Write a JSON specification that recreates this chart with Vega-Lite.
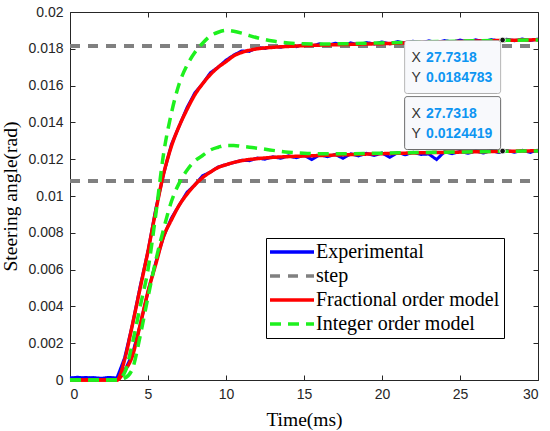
{
  "$schema": "https://vega.github.io/schema/vega-lite/v6.json",
  "description": "Steering angle step response: experiment vs fractional and integer order models",
  "width": 468,
  "height": 368,
  "autosize": {"type": "none"},
  "padding": {"left": 70, "top": 12, "right": 12, "bottom": 51},
  "background": "white",
  "datasets": {
    "curves": [
      {"series": "Experimental", "run": "a", "t": 0, "v": 0.00012},
      {"series": "Experimental", "run": "a", "t": 0.5, "v": 0.00008},
      {"series": "Experimental", "run": "a", "t": 1, "v": 0.00014},
      {"series": "Experimental", "run": "a", "t": 1.5, "v": 0.0001},
      {"series": "Experimental", "run": "a", "t": 2, "v": 0.00006},
      {"series": "Experimental", "run": "a", "t": 2.5, "v": 0.00011},
      {"series": "Experimental", "run": "a", "t": 3, "v": 0.00009},
      {"series": "Experimental", "run": "a", "t": 3.5, "v": 0.0012},
      {"series": "Experimental", "run": "a", "t": 4, "v": 0.003},
      {"series": "Experimental", "run": "a", "t": 4.5, "v": 0.0051},
      {"series": "Experimental", "run": "a", "t": 5, "v": 0.007},
      {"series": "Experimental", "run": "a", "t": 5.5, "v": 0.0093},
      {"series": "Experimental", "run": "a", "t": 6, "v": 0.0112},
      {"series": "Experimental", "run": "a", "t": 6.5, "v": 0.0128},
      {"series": "Experimental", "run": "a", "t": 7, "v": 0.0138},
      {"series": "Experimental", "run": "a", "t": 7.5, "v": 0.0148},
      {"series": "Experimental", "run": "a", "t": 8, "v": 0.0156},
      {"series": "Experimental", "run": "a", "t": 8.5, "v": 0.0161},
      {"series": "Experimental", "run": "a", "t": 9, "v": 0.0167},
      {"series": "Experimental", "run": "a", "t": 9.5, "v": 0.017},
      {"series": "Experimental", "run": "a", "t": 10, "v": 0.01738},
      {"series": "Experimental", "run": "a", "t": 10.5, "v": 0.01766},
      {"series": "Experimental", "run": "a", "t": 11, "v": 0.01788},
      {"series": "Experimental", "run": "a", "t": 11.5, "v": 0.01786},
      {"series": "Experimental", "run": "a", "t": 12, "v": 0.01808},
      {"series": "Experimental", "run": "a", "t": 12.5, "v": 0.01802},
      {"series": "Experimental", "run": "a", "t": 13, "v": 0.01816},
      {"series": "Experimental", "run": "a", "t": 13.5, "v": 0.01808},
      {"series": "Experimental", "run": "a", "t": 14, "v": 0.0182},
      {"series": "Experimental", "run": "a", "t": 14.5, "v": 0.01812},
      {"series": "Experimental", "run": "a", "t": 15, "v": 0.01824},
      {"series": "Experimental", "run": "a", "t": 15.5, "v": 0.01815},
      {"series": "Experimental", "run": "a", "t": 16, "v": 0.01827},
      {"series": "Experimental", "run": "a", "t": 16.5, "v": 0.01818},
      {"series": "Experimental", "run": "a", "t": 17, "v": 0.0183},
      {"series": "Experimental", "run": "a", "t": 17.5, "v": 0.0182},
      {"series": "Experimental", "run": "a", "t": 18, "v": 0.01832},
      {"series": "Experimental", "run": "a", "t": 18.5, "v": 0.01822},
      {"series": "Experimental", "run": "a", "t": 19, "v": 0.01834},
      {"series": "Experimental", "run": "a", "t": 19.5, "v": 0.01826},
      {"series": "Experimental", "run": "a", "t": 20, "v": 0.01837},
      {"series": "Experimental", "run": "a", "t": 20.5, "v": 0.01827},
      {"series": "Experimental", "run": "a", "t": 21, "v": 0.01839},
      {"series": "Experimental", "run": "a", "t": 21.5, "v": 0.0183},
      {"series": "Experimental", "run": "a", "t": 22, "v": 0.01841},
      {"series": "Experimental", "run": "a", "t": 22.5, "v": 0.01832},
      {"series": "Experimental", "run": "a", "t": 23, "v": 0.01843},
      {"series": "Experimental", "run": "a", "t": 23.5, "v": 0.01834},
      {"series": "Experimental", "run": "a", "t": 24, "v": 0.01845},
      {"series": "Experimental", "run": "a", "t": 24.5, "v": 0.01836},
      {"series": "Experimental", "run": "a", "t": 25, "v": 0.01847},
      {"series": "Experimental", "run": "a", "t": 25.5, "v": 0.01838},
      {"series": "Experimental", "run": "a", "t": 26, "v": 0.01849},
      {"series": "Experimental", "run": "a", "t": 26.5, "v": 0.0184},
      {"series": "Experimental", "run": "a", "t": 27, "v": 0.0185},
      {"series": "Experimental", "run": "a", "t": 27.5, "v": 0.01843},
      {"series": "Experimental", "run": "a", "t": 28, "v": 0.01852},
      {"series": "Experimental", "run": "a", "t": 28.5, "v": 0.01844},
      {"series": "Experimental", "run": "a", "t": 29, "v": 0.01853},
      {"series": "Experimental", "run": "a", "t": 29.5, "v": 0.01845},
      {"series": "Experimental", "run": "a", "t": 30, "v": 0.01853},
      {"series": "Experimental", "run": "b", "t": 0, "v": 0.0001},
      {"series": "Experimental", "run": "b", "t": 0.5, "v": 0.00015},
      {"series": "Experimental", "run": "b", "t": 1, "v": 0.00008},
      {"series": "Experimental", "run": "b", "t": 1.5, "v": 0.00013},
      {"series": "Experimental", "run": "b", "t": 2, "v": 0.00009},
      {"series": "Experimental", "run": "b", "t": 2.5, "v": 0.00014},
      {"series": "Experimental", "run": "b", "t": 3, "v": 0.0001},
      {"series": "Experimental", "run": "b", "t": 3.5, "v": 0.0005},
      {"series": "Experimental", "run": "b", "t": 4, "v": 0.0014},
      {"series": "Experimental", "run": "b", "t": 4.5, "v": 0.003},
      {"series": "Experimental", "run": "b", "t": 5, "v": 0.0048},
      {"series": "Experimental", "run": "b", "t": 5.5, "v": 0.0064},
      {"series": "Experimental", "run": "b", "t": 6, "v": 0.0078},
      {"series": "Experimental", "run": "b", "t": 6.5, "v": 0.0088},
      {"series": "Experimental", "run": "b", "t": 7, "v": 0.0095},
      {"series": "Experimental", "run": "b", "t": 7.5, "v": 0.0102},
      {"series": "Experimental", "run": "b", "t": 8, "v": 0.0106},
      {"series": "Experimental", "run": "b", "t": 8.5, "v": 0.0111},
      {"series": "Experimental", "run": "b", "t": 9, "v": 0.0113},
      {"series": "Experimental", "run": "b", "t": 9.5, "v": 0.01158},
      {"series": "Experimental", "run": "b", "t": 10, "v": 0.0117},
      {"series": "Experimental", "run": "b", "t": 10.5, "v": 0.01182},
      {"series": "Experimental", "run": "b", "t": 11, "v": 0.01194},
      {"series": "Experimental", "run": "b", "t": 11.5, "v": 0.01192},
      {"series": "Experimental", "run": "b", "t": 12, "v": 0.01206},
      {"series": "Experimental", "run": "b", "t": 12.5, "v": 0.012},
      {"series": "Experimental", "run": "b", "t": 13, "v": 0.01213},
      {"series": "Experimental", "run": "b", "t": 13.5, "v": 0.01205},
      {"series": "Experimental", "run": "b", "t": 14, "v": 0.01218},
      {"series": "Experimental", "run": "b", "t": 14.5, "v": 0.01208},
      {"series": "Experimental", "run": "b", "t": 15, "v": 0.01221},
      {"series": "Experimental", "run": "b", "t": 15.5, "v": 0.01198},
      {"series": "Experimental", "run": "b", "t": 16, "v": 0.01224},
      {"series": "Experimental", "run": "b", "t": 16.5, "v": 0.01214},
      {"series": "Experimental", "run": "b", "t": 17, "v": 0.01226},
      {"series": "Experimental", "run": "b", "t": 17.5, "v": 0.01205},
      {"series": "Experimental", "run": "b", "t": 18, "v": 0.01229},
      {"series": "Experimental", "run": "b", "t": 18.5, "v": 0.01218},
      {"series": "Experimental", "run": "b", "t": 19, "v": 0.01232},
      {"series": "Experimental", "run": "b", "t": 19.5, "v": 0.0122},
      {"series": "Experimental", "run": "b", "t": 20, "v": 0.01234},
      {"series": "Experimental", "run": "b", "t": 20.5, "v": 0.0121},
      {"series": "Experimental", "run": "b", "t": 21, "v": 0.01236},
      {"series": "Experimental", "run": "b", "t": 21.5, "v": 0.01224},
      {"series": "Experimental", "run": "b", "t": 22, "v": 0.01238},
      {"series": "Experimental", "run": "b", "t": 22.5, "v": 0.01226},
      {"series": "Experimental", "run": "b", "t": 23, "v": 0.01228},
      {"series": "Experimental", "run": "b", "t": 23.5, "v": 0.01198},
      {"series": "Experimental", "run": "b", "t": 24, "v": 0.0124},
      {"series": "Experimental", "run": "b", "t": 24.5, "v": 0.0123},
      {"series": "Experimental", "run": "b", "t": 25, "v": 0.01242},
      {"series": "Experimental", "run": "b", "t": 25.5, "v": 0.01232},
      {"series": "Experimental", "run": "b", "t": 26, "v": 0.01244},
      {"series": "Experimental", "run": "b", "t": 26.5, "v": 0.01234},
      {"series": "Experimental", "run": "b", "t": 27, "v": 0.01246},
      {"series": "Experimental", "run": "b", "t": 27.5, "v": 0.01236},
      {"series": "Experimental", "run": "b", "t": 28, "v": 0.01247},
      {"series": "Experimental", "run": "b", "t": 28.5, "v": 0.01238},
      {"series": "Experimental", "run": "b", "t": 29, "v": 0.01248},
      {"series": "Experimental", "run": "b", "t": 29.5, "v": 0.01237},
      {"series": "Experimental", "run": "b", "t": 30, "v": 0.01249},
      {"series": "step", "run": "a", "t": 0, "v": 0.01815},
      {"series": "step", "run": "a", "t": 30, "v": 0.01815},
      {"series": "step", "run": "b", "t": 0, "v": 0.01082},
      {"series": "step", "run": "b", "t": 30, "v": 0.01082},
      {"series": "Fractional order model", "run": "a", "t": 0, "v": 0},
      {"series": "Fractional order model", "run": "a", "t": 3, "v": 0},
      {"series": "Fractional order model", "run": "a", "t": 3.5, "v": 0.0011},
      {"series": "Fractional order model", "run": "a", "t": 4, "v": 0.003},
      {"series": "Fractional order model", "run": "a", "t": 4.5, "v": 0.005},
      {"series": "Fractional order model", "run": "a", "t": 5, "v": 0.007},
      {"series": "Fractional order model", "run": "a", "t": 5.5, "v": 0.0092},
      {"series": "Fractional order model", "run": "a", "t": 6, "v": 0.0112},
      {"series": "Fractional order model", "run": "a", "t": 6.5, "v": 0.0127},
      {"series": "Fractional order model", "run": "a", "t": 7, "v": 0.0138},
      {"series": "Fractional order model", "run": "a", "t": 7.5, "v": 0.0147},
      {"series": "Fractional order model", "run": "a", "t": 8, "v": 0.0155},
      {"series": "Fractional order model", "run": "a", "t": 8.5, "v": 0.0161},
      {"series": "Fractional order model", "run": "a", "t": 9, "v": 0.0166},
      {"series": "Fractional order model", "run": "a", "t": 9.5, "v": 0.017},
      {"series": "Fractional order model", "run": "a", "t": 10, "v": 0.0173},
      {"series": "Fractional order model", "run": "a", "t": 10.5, "v": 0.01762},
      {"series": "Fractional order model", "run": "a", "t": 11, "v": 0.0178},
      {"series": "Fractional order model", "run": "a", "t": 12, "v": 0.018},
      {"series": "Fractional order model", "run": "a", "t": 13, "v": 0.01808},
      {"series": "Fractional order model", "run": "a", "t": 14, "v": 0.01813},
      {"series": "Fractional order model", "run": "a", "t": 15, "v": 0.01817},
      {"series": "Fractional order model", "run": "a", "t": 17, "v": 0.01822},
      {"series": "Fractional order model", "run": "a", "t": 20, "v": 0.01828},
      {"series": "Fractional order model", "run": "a", "t": 23, "v": 0.01835},
      {"series": "Fractional order model", "run": "a", "t": 26, "v": 0.01842},
      {"series": "Fractional order model", "run": "a", "t": 28, "v": 0.01846},
      {"series": "Fractional order model", "run": "a", "t": 30, "v": 0.01849},
      {"series": "Fractional order model", "run": "b", "t": 0, "v": 0},
      {"series": "Fractional order model", "run": "b", "t": 3, "v": 0},
      {"series": "Fractional order model", "run": "b", "t": 3.5, "v": 0.0005},
      {"series": "Fractional order model", "run": "b", "t": 4, "v": 0.0013},
      {"series": "Fractional order model", "run": "b", "t": 4.5, "v": 0.003},
      {"series": "Fractional order model", "run": "b", "t": 5, "v": 0.0048},
      {"series": "Fractional order model", "run": "b", "t": 5.5, "v": 0.0063},
      {"series": "Fractional order model", "run": "b", "t": 6, "v": 0.0078},
      {"series": "Fractional order model", "run": "b", "t": 6.5, "v": 0.0087},
      {"series": "Fractional order model", "run": "b", "t": 7, "v": 0.0095},
      {"series": "Fractional order model", "run": "b", "t": 7.5, "v": 0.0101},
      {"series": "Fractional order model", "run": "b", "t": 8, "v": 0.0106},
      {"series": "Fractional order model", "run": "b", "t": 8.5, "v": 0.011},
      {"series": "Fractional order model", "run": "b", "t": 9, "v": 0.0113},
      {"series": "Fractional order model", "run": "b", "t": 9.5, "v": 0.01155},
      {"series": "Fractional order model", "run": "b", "t": 10, "v": 0.0117},
      {"series": "Fractional order model", "run": "b", "t": 11, "v": 0.01192},
      {"series": "Fractional order model", "run": "b", "t": 12, "v": 0.01203},
      {"series": "Fractional order model", "run": "b", "t": 13, "v": 0.0121},
      {"series": "Fractional order model", "run": "b", "t": 14, "v": 0.01214},
      {"series": "Fractional order model", "run": "b", "t": 16, "v": 0.0122},
      {"series": "Fractional order model", "run": "b", "t": 18, "v": 0.01225},
      {"series": "Fractional order model", "run": "b", "t": 20, "v": 0.0123},
      {"series": "Fractional order model", "run": "b", "t": 24, "v": 0.01237},
      {"series": "Fractional order model", "run": "b", "t": 28, "v": 0.01243},
      {"series": "Fractional order model", "run": "b", "t": 30, "v": 0.01246},
      {"series": "Integer order model", "run": "a", "t": 0, "v": 0},
      {"series": "Integer order model", "run": "a", "t": 3, "v": 0},
      {"series": "Integer order model", "run": "a", "t": 3.5, "v": 0.0004},
      {"series": "Integer order model", "run": "a", "t": 4, "v": 0.002},
      {"series": "Integer order model", "run": "a", "t": 4.5, "v": 0.004},
      {"series": "Integer order model", "run": "a", "t": 5, "v": 0.006},
      {"series": "Integer order model", "run": "a", "t": 5.5, "v": 0.009},
      {"series": "Integer order model", "run": "a", "t": 6, "v": 0.0123},
      {"series": "Integer order model", "run": "a", "t": 6.5, "v": 0.0145},
      {"series": "Integer order model", "run": "a", "t": 7, "v": 0.0161},
      {"series": "Integer order model", "run": "a", "t": 7.5, "v": 0.0171},
      {"series": "Integer order model", "run": "a", "t": 8, "v": 0.0178},
      {"series": "Integer order model", "run": "a", "t": 8.5, "v": 0.0183},
      {"series": "Integer order model", "run": "a", "t": 9, "v": 0.0187},
      {"series": "Integer order model", "run": "a", "t": 9.5, "v": 0.0189},
      {"series": "Integer order model", "run": "a", "t": 10, "v": 0.019},
      {"series": "Integer order model", "run": "a", "t": 10.5, "v": 0.01895},
      {"series": "Integer order model", "run": "a", "t": 11, "v": 0.01885},
      {"series": "Integer order model", "run": "a", "t": 11.5, "v": 0.01872},
      {"series": "Integer order model", "run": "a", "t": 12, "v": 0.0186},
      {"series": "Integer order model", "run": "a", "t": 12.5, "v": 0.0185},
      {"series": "Integer order model", "run": "a", "t": 13, "v": 0.01842},
      {"series": "Integer order model", "run": "a", "t": 14, "v": 0.01832},
      {"series": "Integer order model", "run": "a", "t": 15, "v": 0.01827},
      {"series": "Integer order model", "run": "a", "t": 16, "v": 0.01826},
      {"series": "Integer order model", "run": "a", "t": 18, "v": 0.01828},
      {"series": "Integer order model", "run": "a", "t": 20, "v": 0.01832},
      {"series": "Integer order model", "run": "a", "t": 24, "v": 0.0184},
      {"series": "Integer order model", "run": "a", "t": 28, "v": 0.01846},
      {"series": "Integer order model", "run": "a", "t": 30, "v": 0.01848},
      {"series": "Integer order model", "run": "b", "t": 0, "v": 0},
      {"series": "Integer order model", "run": "b", "t": 3, "v": 0},
      {"series": "Integer order model", "run": "b", "t": 3.5, "v": 0.0001},
      {"series": "Integer order model", "run": "b", "t": 4, "v": 0.0006},
      {"series": "Integer order model", "run": "b", "t": 4.5, "v": 0.0024},
      {"series": "Integer order model", "run": "b", "t": 5, "v": 0.0045},
      {"series": "Integer order model", "run": "b", "t": 5.5, "v": 0.0065},
      {"series": "Integer order model", "run": "b", "t": 6, "v": 0.0082},
      {"series": "Integer order model", "run": "b", "t": 6.5, "v": 0.0097},
      {"series": "Integer order model", "run": "b", "t": 7, "v": 0.0107},
      {"series": "Integer order model", "run": "b", "t": 7.5, "v": 0.0114},
      {"series": "Integer order model", "run": "b", "t": 8, "v": 0.0119},
      {"series": "Integer order model", "run": "b", "t": 8.5, "v": 0.0122},
      {"series": "Integer order model", "run": "b", "t": 9, "v": 0.0125},
      {"series": "Integer order model", "run": "b", "t": 9.5, "v": 0.01265},
      {"series": "Integer order model", "run": "b", "t": 10, "v": 0.01275},
      {"series": "Integer order model", "run": "b", "t": 10.5, "v": 0.01275},
      {"series": "Integer order model", "run": "b", "t": 11, "v": 0.0127},
      {"series": "Integer order model", "run": "b", "t": 11.5, "v": 0.01265},
      {"series": "Integer order model", "run": "b", "t": 12, "v": 0.0126},
      {"series": "Integer order model", "run": "b", "t": 13, "v": 0.01248},
      {"series": "Integer order model", "run": "b", "t": 14, "v": 0.01238},
      {"series": "Integer order model", "run": "b", "t": 15, "v": 0.01232},
      {"series": "Integer order model", "run": "b", "t": 16, "v": 0.0123},
      {"series": "Integer order model", "run": "b", "t": 18, "v": 0.0123},
      {"series": "Integer order model", "run": "b", "t": 20, "v": 0.01233},
      {"series": "Integer order model", "run": "b", "t": 24, "v": 0.01238},
      {"series": "Integer order model", "run": "b", "t": 28, "v": 0.01243},
      {"series": "Integer order model", "run": "b", "t": 30, "v": 0.01245}
    ],
    "tips": [
      {"pos": "top", "t": 27.7318, "v": 0.0184783, "lab": "X\nY", "val": "27.7318\n0.0184783"},
      {"pos": "bottom", "t": 27.7318, "v": 0.0124419, "lab": "X\nY", "val": "27.7318\n0.0124419"}
    ]
  },
  "layer": [
    {
      "data": {"name": "curves"},
      "encoding": {
        "x": {
          "field": "t", "type": "quantitative",
          "scale": {"domain": [0, 30], "nice": false},
          "axis": {"values": [0, 5, 10, 15, 20, 25, 30], "title": "Time(ms)", "labelPadding": 12, "titlePadding": 9}
        },
        "y": {
          "field": "v", "type": "quantitative",
          "scale": {"domain": [0, 0.02], "nice": false},
          "axis": {
            "values": [0, 0.002, 0.004, 0.006, 0.008, 0.01, 0.012, 0.014, 0.016, 0.018, 0.02],
            "format": "~g", "title": "Steering angle(rad)", "labelPadding": 12, "titlePadding": 7
          }
        },
        "color": {
          "field": "series", "type": "nominal",
          "scale": {
            "domain": ["Experimental", "step", "Fractional order model", "Integer order model"],
            "range": ["#0000ff", "#808080", "#ff0000", "#1ef01e"]
          },
          "legend": {
            "title": null, "orient": "none", "legendX": 196, "legendY": 226,
            "symbolType": "M-2.75,0L2.75,0", "symbolSize": 256, "symbolStrokeWidth": 3.5,
            "symbolOffset": 12, "labelOffset": 14, "rowPadding": 4, "padding": 4,
            "labelFont": "Liberation Serif", "labelFontSize": 20, "labelColor": "black",
            "strokeColor": "black", "fillColor": "white", "cornerRadius": 0, "labelLimit": 400
          }
        },
        "strokeDash": {
          "field": "series", "type": "nominal",
          "scale": {
            "domain": ["Experimental", "step", "Fractional order model", "Integer order model"],
            "range": [[1, 0], [10, 8], [1, 0], [11, 7]]
          },
          "legend": null
        },
        "detail": {"field": "run"}
      },
      "layer": [
        {"transform": [{"filter": "datum.series === 'Experimental'"}], "mark": {"type": "line", "strokeWidth": 3}},
        {"transform": [{"filter": "datum.series === 'step'"}], "mark": {"type": "line", "strokeWidth": 4}},
        {"transform": [{"filter": "datum.series === 'Fractional order model'"}], "mark": {"type": "line", "strokeWidth": 3.5, "interpolate": "monotone"}},
        {"transform": [{"filter": "datum.series === 'Integer order model'"}], "mark": {"type": "line", "strokeWidth": 3.5, "interpolate": "monotone"}},
        {
          "data": {"name": "tips"},
          "transform": [{"filter": "datum.pos === 'top'"}],
          "mark": {"type": "point", "shape": "M-0.9375,-0.552L0.9375,-0.552Q1,-0.552,1,-0.4895L1,0.4895Q1,0.552,0.9375,0.552L-0.9375,0.552Q-1,0.552,-1,0.4895L-1,-0.4895Q-1,-0.552,-0.9375,-0.552Z", "size": 9216, "filled": true, "fill": "#f8f9fc", "stroke": "#a8a8a8", "strokeWidth": 1, "opacity": 1, "xOffset": -50, "yOffset": 27},
          "encoding": {"color": {"value": "#f8f9fc"}, "strokeDash": {"value": [1, 0]}}
        },
        {
          "data": {"name": "tips"},
          "transform": [{"filter": "datum.pos === 'bottom'"}],
          "mark": {"type": "point", "shape": "M-0.9375,-0.552L0.9375,-0.552Q1,-0.552,1,-0.4895L1,0.4895Q1,0.552,0.9375,0.552L-0.9375,0.552Q-1,0.552,-1,0.4895L-1,-0.4895Q-1,-0.552,-0.9375,-0.552Z", "size": 9216, "filled": true, "fill": "#f8f9fc", "stroke": "#555555", "strokeWidth": 1, "opacity": 1, "xOffset": -50, "yOffset": -28},
          "encoding": {"color": {"value": "#f8f9fc"}, "strokeDash": {"value": [1, 0]}}
        },
        {
          "data": {"name": "tips"},
          "transform": [{"filter": "datum.pos === 'top'"}],
          "mark": {"type": "text", "lineBreak": "\n", "lineHeight": 20, "align": "left", "baseline": "middle", "dx": -91, "dy": 18, "font": "Liberation Sans", "fontSize": 14},
          "encoding": {"text": {"field": "lab"}, "color": {"value": "#333333"}, "strokeDash": {"value": [1, 0]}}
        },
        {
          "data": {"name": "tips"},
          "transform": [{"filter": "datum.pos === 'top'"}],
          "mark": {"type": "text", "lineBreak": "\n", "lineHeight": 20, "align": "left", "baseline": "middle", "dx": -76.5, "dy": 18, "font": "Liberation Sans", "fontSize": 14, "fontWeight": "bold"},
          "encoding": {"text": {"field": "val"}, "color": {"value": "#0d95f2"}, "strokeDash": {"value": [1, 0]}}
        },
        {
          "data": {"name": "tips"},
          "transform": [{"filter": "datum.pos === 'bottom'"}],
          "mark": {"type": "text", "lineBreak": "\n", "lineHeight": 20, "align": "left", "baseline": "middle", "dx": -91, "dy": -37, "font": "Liberation Sans", "fontSize": 14},
          "encoding": {"text": {"field": "lab"}, "color": {"value": "#333333"}, "strokeDash": {"value": [1, 0]}}
        },
        {
          "data": {"name": "tips"},
          "transform": [{"filter": "datum.pos === 'bottom'"}],
          "mark": {"type": "text", "lineBreak": "\n", "lineHeight": 20, "align": "left", "baseline": "middle", "dx": -76.5, "dy": -37, "font": "Liberation Sans", "fontSize": 14, "fontWeight": "bold"},
          "encoding": {"text": {"field": "val"}, "color": {"value": "#0d95f2"}, "strokeDash": {"value": [1, 0]}}
        },
        {
          "data": {"name": "tips"},
          "mark": {"type": "point", "filled": true, "size": 30, "stroke": "white", "strokeWidth": 1, "opacity": 1},
          "encoding": {"color": {"value": "#111111"}, "strokeDash": {"value": [1, 0]}}
        }
      ]
    },
    {
      "data": {"name": "tips"},
      "mark": {"type": "point", "opacity": 0},
      "encoding": {
        "x": {
          "field": "t", "type": "quantitative",
          "scale": {"domain": [0, 30], "nice": false},
          "axis": {"orient": "top", "values": [0, 5, 10, 15, 20, 25, 30], "labels": false, "title": null}
        },
        "y": {
          "field": "v", "type": "quantitative",
          "scale": {"domain": [0, 0.02], "nice": false},
          "axis": {"orient": "right", "values": [0, 0.002, 0.004, 0.006, 0.008, 0.01, 0.012, 0.014, 0.016, 0.018, 0.02], "labels": false, "title": null}
        }
      }
    }
  ],
  "resolve": {"scale": {"x": "independent", "y": "independent"}},
  "config": {
    "view": {"stroke": null},
    "axis": {
      "grid": false,
      "tickSize": -5,
      "tickColor": "#262626",
      "domainColor": "#262626",
      "labelFont": "Liberation Sans",
      "labelFontSize": 14,
      "labelColor": "#262626",
      "titleFont": "Liberation Serif",
      "titleFontSize": 19.5,
      "titleFontWeight": "normal",
      "titleColor": "#000000"
    }
  }
}
